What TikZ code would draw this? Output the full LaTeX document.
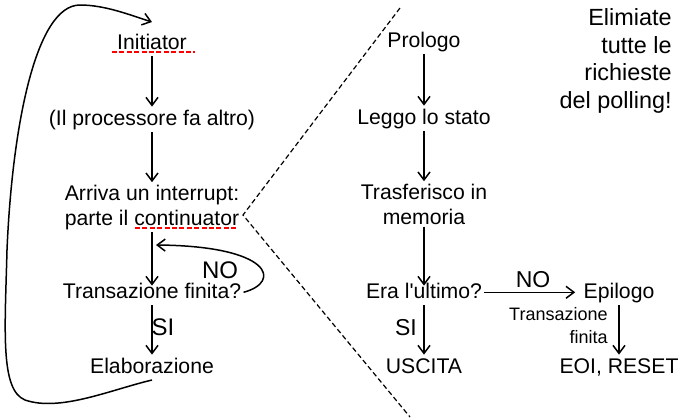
\documentclass[tikz,border=0pt]{standalone}
\usepackage{fontspec}
\setmainfont{Liberation Sans}[Ligatures=TeXOff]
\usetikzlibrary{arrows.meta}

\begin{document}
\begin{tikzpicture}[x=0.5pt,y=-0.5pt, % un'unita = un pixel
  testo/.style={inner sep=1pt,anchor=base,font=\fontsize{10.6}{12.5}\selectfont,text height=8pt,text depth=2.3pt},
  testodue/.style={inner sep=1pt,anchor=base,align=center,font=\fontsize{10.6}{12.5}\selectfont},
  etich/.style={inner sep=0pt,anchor=base,font=\fontsize{12}{14}\selectfont},
  etichdue/.style={inner sep=0pt,anchor=base,font=\fontsize{11.5}{14}\selectfont},
  piccolo/.style={inner sep=0pt,anchor=base east,align=right,font=\fontsize{9}{11.5}\selectfont},
  nota/.style={inner sep=0pt,anchor=base east,align=right,font=\fontsize{11.7}{13.75}\selectfont},
  freccia/.style={line width=0.75pt,-{Straight Barb[length=4pt,width=6pt]}},
  sottolinea/.style={color=red,line width=0.7pt,dash pattern=on 2.5pt off 1.2pt},
  divisore/.style={line width=0.6pt,dash pattern=on 2.5pt off 1.5pt}]
\useasboundingbox (0,0) rectangle (682,419);
% colonna di sinistra (base = ultima riga)
\node[testo] (init) at (152,49) {Initiator};
\node[testo] (proc) at (152,125) {(Il processore fa altro)};
\node[testodue] (arriva) at (152,225) {Arriva un interrupt:\\parte il continuator};
\node[testo] (trans) at (152,298) {Transazione finita?};
\node[testo] (elab) at (152,373) {Elaborazione};
\node[etich] (si1) at (163,335) {SI};
\node[etich] (no1) at (220,278) {NO};
\coordinate (noend) at (156,245);
\coordinate (loopend) at (152,22);
\draw[sottolinea] (112,52) -- (195,52); % sotto Initiator
\draw[sottolinea] (135,228) -- (237,228); % sotto continuator
\draw[freccia] (init.south) -- (proc.north);
\draw[freccia] (proc.south) -- (arriva.north);
\draw[freccia,shorten >=-3pt] (arriva.south) -- (trans.north);
\draw[freccia] (trans.south) -- (elab.north);
\draw[freccia] (trans.east) .. controls (282,282) and (272,246) .. (noend); % ritorno NO
\draw[freccia] (elab.south) .. controls (110,390) and (60,412) .. (25,400)
  .. controls (0,390) and (5,330) .. (7,250)
  .. controls (12,130) and (35,5) .. (80,5)
  .. controls (105,5) and (130,15) .. (loopend); % giro completo
% linea tratteggiata
\draw[divisore] (400,8) -- (243,215) -- (410,417);
% colonna di destra
\node[testo] (prol) at (424,47) {Prologo};
\node[testo] (leggo) at (424,124) {Leggo lo stato};
\node[testodue] (trasf) at (424,224) {Trasferisco in\\memoria};
\node[testo] (era) at (424,298) {Era l'ultimo?};
\node[testo] (usc) at (424,373) {USCITA};
\node[testo] (epi) at (619,298) {Epilogo};
\node[testo] (eoi) at (619,373) {EOI, RESET};
\node[etichdue] (si2) at (406,335) {SI};
\node[etichdue] (no2) at (533,287) {NO};
\node[piccolo] (fin) at (608,343) {Transazione\\finita};
\node[nota] (nota) at (672,108) {Elimiate\\tutte le\\richieste\\del polling!};
\draw[freccia] (prol.south) -- (leggo.north);
\draw[freccia] (leggo.south) -- (trasf.north);
\draw[freccia,shorten >=-3pt] (trasf.south) -- (era.north);
\draw[freccia] (era.south) -- (usc.north);
\draw[freccia,shorten >=3pt] (era.east) -- (epi.west);
\draw[freccia] (epi.south) -- (eoi.north);
\end{tikzpicture}
\end{document}
